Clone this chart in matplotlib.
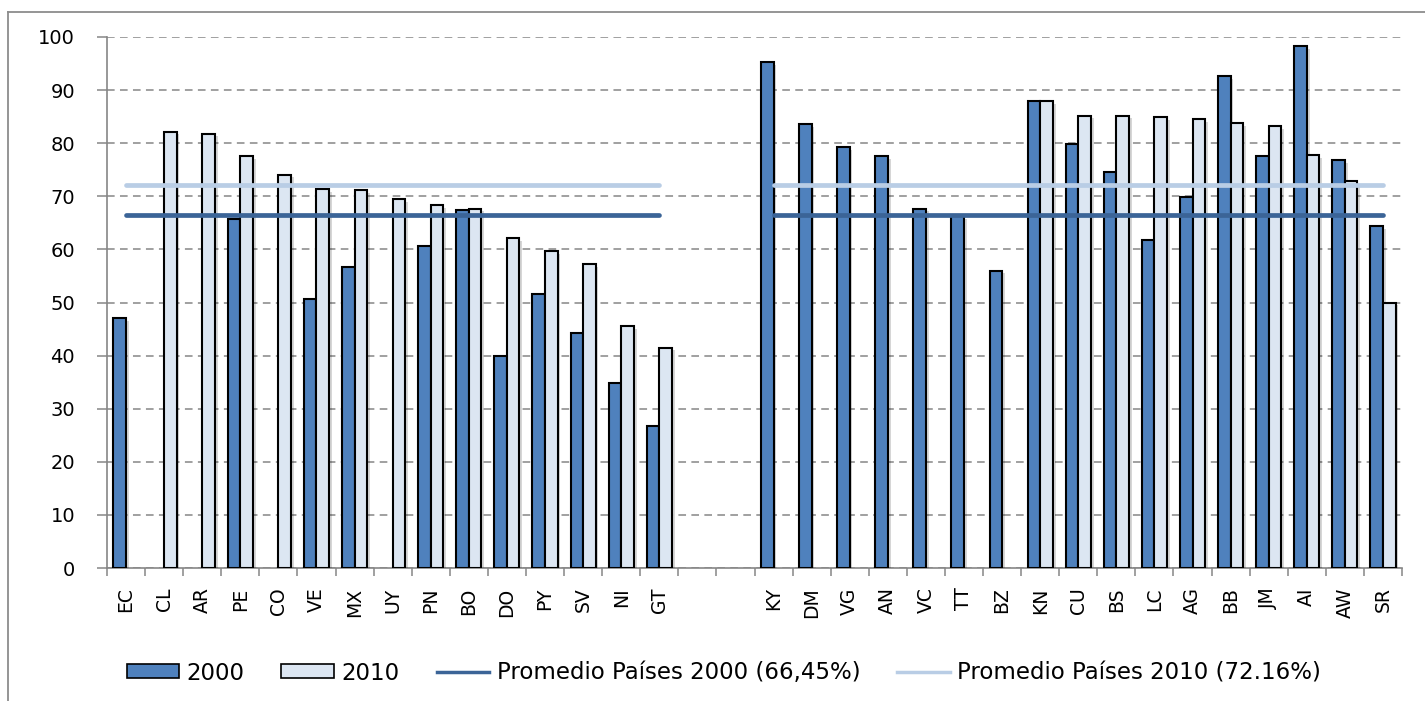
import numpy as np
import matplotlib
matplotlib.use("Agg")
import matplotlib.pyplot as plt
from matplotlib.lines import Line2D
from matplotlib.patches import Patch
import matplotlib.patheffects as pe

# ---- data ----
left_countries = ["EC", "CL", "AR", "PE", "CO", "VE", "MX", "UY", "PN", "BO",
                  "DO", "PY", "SV", "NI", "GT"]
left_2000 = [47.0, np.nan, np.nan, 65.7, np.nan, 50.6, 56.7, np.nan, 60.7, 67.4,
             39.9, 51.6, 44.2, 34.8, 26.8]
left_2010 = [np.nan, 82.2, 81.8, 77.5, 74.1, 71.4, 71.1, 69.5, 68.4, 67.7,
             62.1, 59.7, 57.3, 45.6, 41.5]

right_countries = ["KY", "DM", "VG", "AN", "VC", "TT", "BZ", "KN", "CU", "BS",
                   "LC", "AG", "BB", "JM", "AI", "AW", "SR"]
right_2000 = [95.3, 83.6, 79.2, 77.5, 67.7, 66.3, 56.0, 87.9, 79.9, 74.5,
              61.7, 69.8, 92.6, 77.5, 98.3, 76.8, 64.4]
right_2010 = [np.nan, np.nan, np.nan, np.nan, np.nan, np.nan, np.nan, 87.9, 85.2, 85.2,
              84.9, 84.6, 83.8, 83.2, 77.8, 72.8, 50.0]

avg_2000 = 66.45
avg_2010 = 72.16
n_gap = 2

series_labels = ["2000", "2010",
                 "Promedio Países 2000 (66,45%)", "Promedio Países 2010 (72.16%)"]
yticks = list(range(0, 101, 10))

# ---- assemble ----
categories = left_countries + [""] * n_gap + right_countries
vals_2000 = np.array(left_2000 + [np.nan] * n_gap + right_2000, dtype=float)
vals_2010 = np.array(left_2010 + [np.nan] * n_gap + right_2010, dtype=float)
x = np.arange(len(categories))
in_group = np.array([c != "" for c in categories])
avg_line_2000 = np.where(in_group, avg_2000, np.nan)
avg_line_2010 = np.where(in_group, avg_2010, np.nan)

c2000 = "#4F81BD"
c2010 = "#DCE6F2"
cavg2000 = "#3B6497"
cavg2010 = "#B9CDE5"
grey = "#868686"

plt.rcParams["font.family"] = ["DejaVu Sans"]

fig = plt.figure(figsize=(14.25, 7.01), dpi=100)
ax = fig.add_axes([107 / 1425, 1 - 568 / 701, (1402 - 107) / 1425, (568 - 37) / 701])

w = 0.33
shadow = [pe.SimplePatchShadow(offset=(2, -2), alpha=0.16, shadow_rgbFace="k"), pe.Normal()]
b1 = ax.bar(x - w / 2, np.nan_to_num(vals_2000), width=w, color=c2000,
            edgecolor="black", linewidth=1.5, zorder=3)
b2 = ax.bar(x + w / 2, np.nan_to_num(vals_2010), width=w, color=c2010,
            edgecolor="black", linewidth=1.5, zorder=3)
for bars, vals in ((b1, vals_2000), (b2, vals_2010)):
    for r, v in zip(bars, vals):
        if np.isnan(v):
            r.set_visible(False)
        else:
            r.set_path_effects(shadow)

ax.plot(x, avg_line_2010, color=cavg2010, lw=3.4, solid_capstyle="round", zorder=4)
ax.plot(x, avg_line_2000, color=cavg2000, lw=3.4, solid_capstyle="round", zorder=4)

ax.set_xlim(-0.5, len(categories) - 0.5)
ax.set_ylim(0, 100)
ax.set_yticks(yticks)
ax.set_yticklabels([str(t) for t in yticks], fontsize=14)
ax.yaxis.grid(True, linestyle=(0, (5, 3.5)), color=grey, linewidth=1.1, zorder=0)
ax.set_axisbelow(True)

ax.set_xticks(x)
ax.set_xticklabels(categories, rotation=90, fontsize=13.5, va="top")
ax.set_xticks(np.arange(-0.5, len(categories)), minor=True)
ax.tick_params(axis="x", which="major", length=0, pad=14)
ax.tick_params(axis="x", which="minor", length=6, color=grey, width=1.1, direction="out")
ax.tick_params(axis="y", length=7, color=grey, width=1.1, pad=16)

for s in ("top", "right"):
    ax.spines[s].set_visible(False)
for s in ("left", "bottom"):
    ax.spines[s].set_color(grey)
    ax.spines[s].set_linewidth(1.2)

# outer chart frame (top and left visible)
fig.add_artist(Line2D([8 / 1425, 1.0], [1 - 12 / 701, 1 - 12 / 701],
                      transform=fig.transFigure, color="#8C8C8C", lw=1.3))
fig.add_artist(Line2D([8 / 1425, 8 / 1425], [0, 1 - 12 / 701],
                      transform=fig.transFigure, color="#8C8C8C", lw=1.3))

handles = [Patch(facecolor=c2000, edgecolor="black", linewidth=1.2),
           Patch(facecolor=c2010, edgecolor="black", linewidth=1.2),
           Line2D([], [], color=cavg2000, lw=2.5),
           Line2D([], [], color=cavg2010, lw=2.5)]
fig.legend(handles, series_labels, loc="center", bbox_to_anchor=(0.508, 1 - 673 / 701),
           ncol=4, frameon=False, fontsize=16.5, handlelength=2.3, handleheight=0.55,
           handletextpad=0.33, columnspacing=1.6)

fig.savefig("out.png", dpi=100)
